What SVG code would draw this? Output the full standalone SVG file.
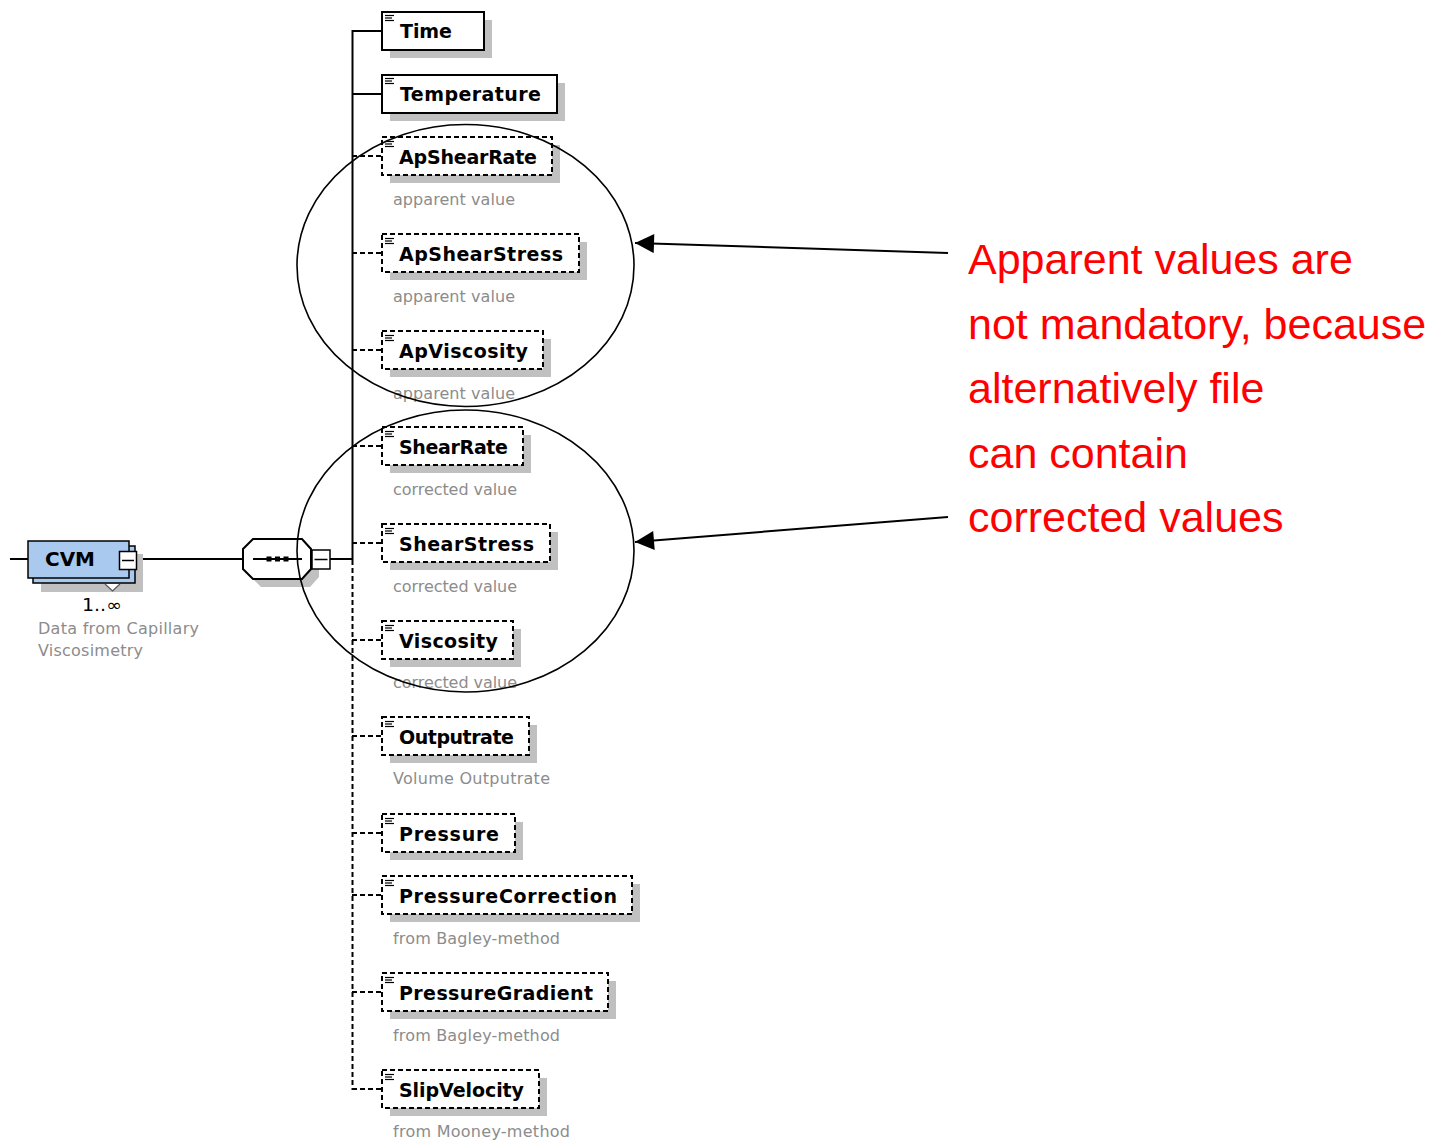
<svg xmlns="http://www.w3.org/2000/svg" width="1429" height="1141" viewBox="0 0 1429 1141">
  <style>
    .shadow { fill: #c0c0c0; stroke: none; }
    .box { fill: #ffffff; stroke: #000000; stroke-width: 2; }
    .opt { stroke-dasharray: 5 3; }
    .icon { stroke: #000000; stroke-width: 1.2; fill: none; }
    .label { font-family: "DejaVu Sans", Verdana, sans-serif; font-weight: bold; font-size: 19px; fill: #000000; }
    .desc { font-family: "DejaVu Sans", Verdana, sans-serif; font-size: 16px; fill: #8c8c8c; }
    .wire { stroke: #000000; stroke-width: 2; fill: none; }
    .dash { stroke-dasharray: 5 3; }
    .ring { fill: none; stroke: #000000; stroke-width: 1.6; }
    .arrow { stroke: #000000; stroke-width: 2; fill: none; }
    .note { font-family: "Liberation Sans", Arial, sans-serif; font-size: 43px; fill: #ff0000; }
  </style>
  <defs>
    <marker id="head" viewBox="0 0 20 20" refX="20" refY="10" markerWidth="20" markerHeight="19" markerUnits="userSpaceOnUse" orient="auto">
      <path d="M0,0 L20,10 L0,20 z" fill="#000000"/>
    </marker>
    <!-- "element" glyph in the top-left corner of each child box -->
    <g id="elicon">
      <line x1="0" y1="0.5" x2="9" y2="0.5"/>
      <line x1="0" y1="3" x2="7" y2="3"/>
      <line x1="0" y1="5.5" x2="9" y2="5.5"/>
    </g>
  </defs>

  <rect width="1429" height="1141" fill="#ffffff"/>

  <!-- connectors -->
  <g id="connectors">
    <line class="wire" x1="10" y1="559" x2="28" y2="559"/>
    <line class="wire" x1="137" y1="559" x2="243" y2="559"/>
    <line class="wire" x1="330" y1="559" x2="353" y2="559"/>
    <line class="wire" x1="352.5" y1="30" x2="352.5" y2="560"/>
    <line class="wire dash" x1="352.5" y1="560" x2="352.5" y2="1090"/>
    <line class="wire" x1="352" y1="31" x2="382" y2="31"/>
    <line class="wire" x1="352" y1="94" x2="382" y2="94"/>
    <line class="wire dash" x1="352" y1="156" x2="382" y2="156"/>
    <line class="wire dash" x1="352" y1="253" x2="382" y2="253"/>
    <line class="wire dash" x1="352" y1="350" x2="382" y2="350"/>
    <line class="wire dash" x1="352" y1="446" x2="382" y2="446"/>
    <line class="wire dash" x1="352" y1="543" x2="382" y2="543"/>
    <line class="wire dash" x1="352" y1="640" x2="382" y2="640"/>
    <line class="wire dash" x1="352" y1="736" x2="382" y2="736"/>
    <line class="wire dash" x1="352" y1="833" x2="382" y2="833"/>
    <line class="wire dash" x1="352" y1="895" x2="382" y2="895"/>
    <line class="wire dash" x1="352" y1="992" x2="382" y2="992"/>
    <line class="wire dash" x1="352" y1="1089" x2="382" y2="1089"/>
  </g>

  <!-- root element CVM (1..unbounded) -->
  <g id="cvm">
    <rect class="shadow" x="41" y="554" width="102" height="38"/>
    <rect x="33" y="546" width="102" height="37" fill="#a9c9ef" stroke="#000000" stroke-width="1.5"/>
    <rect x="28" y="541" width="101" height="37" fill="#a9c9ef" stroke="#000000" stroke-width="1.5"/>
    <text class="label" x="45" y="566" textLength="50" lengthAdjust="spacingAndGlyphs">CVM</text>
    <rect x="119.5" y="551.5" width="17" height="18" fill="#ffffff" stroke="#000000" stroke-width="1.5"/>
    <line x1="122" y1="560.5" x2="134" y2="560.5" stroke="#000000" stroke-width="1.5"/>
    <polyline points="105,584 112.5,591 120,584" fill="#ffffff" stroke="#555555" stroke-width="1.2"/>
    <text x="82" y="611" font-family="DejaVu Sans, sans-serif" font-size="17" fill="#000000" textLength="40" lengthAdjust="spacingAndGlyphs">1..∞</text>
    <text class="desc" x="38" y="634" textLength="161" lengthAdjust="spacing">Data from Capillary</text>
    <text class="desc" x="38" y="656" textLength="105" lengthAdjust="spacing">Viscosimetry</text>
  </g>

  <!-- sequence compositor -->
  <g id="sequence">
    <polygon class="shadow" points="261,547 310,547 319,557 319,577 310,587 261,587 251,577 251,557"/>
    <polygon points="253,539 302,539 311,549 311,569 302,579 253,579 243,569 243,549" fill="#ffffff" stroke="#000000" stroke-width="2"/>
    <line x1="253" y1="559" x2="302" y2="559" stroke="#000000" stroke-width="2"/>
    <rect x="266.5" y="556.5" width="5" height="5" fill="#000000"/>
    <rect x="275" y="556.5" width="5" height="5" fill="#000000"/>
    <rect x="283.5" y="556.5" width="5" height="5" fill="#000000"/>
    <rect x="312" y="550" width="18" height="19" fill="#ffffff" stroke="#000000" stroke-width="1.5"/>
    <line x1="314.5" y1="559.5" x2="327.5" y2="559.5" stroke="#000000" stroke-width="1.5"/>
  </g>

  <!-- child elements -->
  <g id="time">
    <rect class="shadow" x="390" y="20" width="102" height="38"/>
    <rect class="box" x="382" y="12" width="102" height="38"/>
    <use href="#elicon" class="icon" x="385" y="15"/>
    <text class="label" x="400" y="38" textLength="52" lengthAdjust="spacing">Time</text>
  </g>
  <g id="temperature">
    <rect class="shadow" x="390" y="83" width="175" height="38"/>
    <rect class="box" x="382" y="75" width="175" height="38"/>
    <use href="#elicon" class="icon" x="385" y="78"/>
    <text class="label" x="400" y="101" textLength="141" lengthAdjust="spacing">Temperature</text>
  </g>
  <g id="apshearrate">
    <rect class="shadow" x="390" y="145" width="170" height="38"/>
    <rect class="box opt" x="382" y="137" width="170" height="38"/>
    <use href="#elicon" class="icon" x="385" y="141"/>
    <text class="label" x="399" y="164" textLength="138" lengthAdjust="spacing">ApShearRate</text>
    <text class="desc" x="393" y="205" textLength="122" lengthAdjust="spacing">apparent value</text>
  </g>
  <g id="apshearstress">
    <rect class="shadow" x="390" y="242" width="197" height="38"/>
    <rect class="box opt" x="382" y="234" width="197" height="38"/>
    <use href="#elicon" class="icon" x="385" y="238"/>
    <text class="label" x="399" y="261" textLength="164" lengthAdjust="spacing">ApShearStress</text>
    <text class="desc" x="393" y="302" textLength="122" lengthAdjust="spacing">apparent value</text>
  </g>
  <g id="apviscosity">
    <rect class="shadow" x="390" y="339" width="161" height="38"/>
    <rect class="box opt" x="382" y="331" width="161" height="38"/>
    <use href="#elicon" class="icon" x="385" y="335"/>
    <text class="label" x="399" y="358" textLength="129" lengthAdjust="spacing">ApViscosity</text>
    <text class="desc" x="393" y="399" textLength="122" lengthAdjust="spacing">apparent value</text>
  </g>
  <g id="shearrate">
    <rect class="shadow" x="390" y="435" width="141" height="38"/>
    <rect class="box opt" x="382" y="427" width="141" height="38"/>
    <use href="#elicon" class="icon" x="385" y="431"/>
    <text class="label" x="399" y="454" textLength="109" lengthAdjust="spacing">ShearRate</text>
    <text class="desc" x="393" y="495" textLength="124" lengthAdjust="spacing">corrected value</text>
  </g>
  <g id="shearstress">
    <rect class="shadow" x="390" y="532" width="168" height="38"/>
    <rect class="box opt" x="382" y="524" width="168" height="38"/>
    <use href="#elicon" class="icon" x="385" y="528"/>
    <text class="label" x="399" y="551" textLength="135" lengthAdjust="spacing">ShearStress</text>
    <text class="desc" x="393" y="592" textLength="124" lengthAdjust="spacing">corrected value</text>
  </g>
  <g id="viscosity">
    <rect class="shadow" x="390" y="629" width="131" height="38"/>
    <rect class="box opt" x="382" y="621" width="131" height="38"/>
    <use href="#elicon" class="icon" x="385" y="625"/>
    <text class="label" x="399" y="648" textLength="99" lengthAdjust="spacing">Viscosity</text>
    <text class="desc" x="393" y="688" textLength="124" lengthAdjust="spacing">corrected value</text>
  </g>
  <g id="outputrate">
    <rect class="shadow" x="390" y="725" width="147" height="38"/>
    <rect class="box opt" x="382" y="717" width="147" height="38"/>
    <use href="#elicon" class="icon" x="385" y="721"/>
    <text class="label" x="399" y="744" textLength="115" lengthAdjust="spacing">Outputrate</text>
    <text class="desc" x="393" y="784" textLength="157" lengthAdjust="spacing">Volume Outputrate</text>
  </g>
  <g id="pressure">
    <rect class="shadow" x="390" y="822" width="133" height="38"/>
    <rect class="box opt" x="382" y="814" width="133" height="38"/>
    <use href="#elicon" class="icon" x="385" y="818"/>
    <text class="label" x="399" y="841" textLength="100" lengthAdjust="spacing">Pressure</text>
  </g>
  <g id="pressurecorrection">
    <rect class="shadow" x="390" y="884" width="250" height="38"/>
    <rect class="box opt" x="382" y="876" width="250" height="38"/>
    <use href="#elicon" class="icon" x="385" y="880"/>
    <text class="label" x="399" y="903" textLength="218" lengthAdjust="spacing">PressureCorrection</text>
    <text class="desc" x="393" y="944" textLength="167" lengthAdjust="spacing">from Bagley-method</text>
  </g>
  <g id="pressuregradient">
    <rect class="shadow" x="390" y="981" width="226" height="38"/>
    <rect class="box opt" x="382" y="973" width="226" height="38"/>
    <use href="#elicon" class="icon" x="385" y="977"/>
    <text class="label" x="399" y="1000" textLength="194" lengthAdjust="spacing">PressureGradient</text>
    <text class="desc" x="393" y="1041" textLength="167" lengthAdjust="spacing">from Bagley-method</text>
  </g>
  <g id="slipvelocity">
    <rect class="shadow" x="390" y="1078" width="157" height="38"/>
    <rect class="box opt" x="382" y="1070" width="157" height="38"/>
    <use href="#elicon" class="icon" x="385" y="1074"/>
    <text class="label" x="399" y="1097" textLength="125" lengthAdjust="spacing">SlipVelocity</text>
    <text class="desc" x="393" y="1137" textLength="177" lengthAdjust="spacing">from Mooney-method</text>
  </g>

  <!-- annotation: groups of apparent / corrected values -->
  <g id="annotation">
    <ellipse class="ring" cx="465.5" cy="265.5" rx="168.5" ry="141"/>
    <ellipse class="ring" cx="465.5" cy="551" rx="168.5" ry="141"/>
    <line class="arrow" x1="948" y1="253" x2="635" y2="243" marker-end="url(#head)"/>
    <line class="arrow" x1="948" y1="517" x2="635" y2="542" marker-end="url(#head)"/>
    <text class="note" x="968" y="274">Apparent values are</text>
    <text class="note" x="968" y="338.5">not mandatory, because</text>
    <text class="note" x="968" y="403">alternatively file</text>
    <text class="note" x="968" y="467.5">can contain</text>
    <text class="note" x="968" y="532">corrected values</text>
  </g>
</svg>
